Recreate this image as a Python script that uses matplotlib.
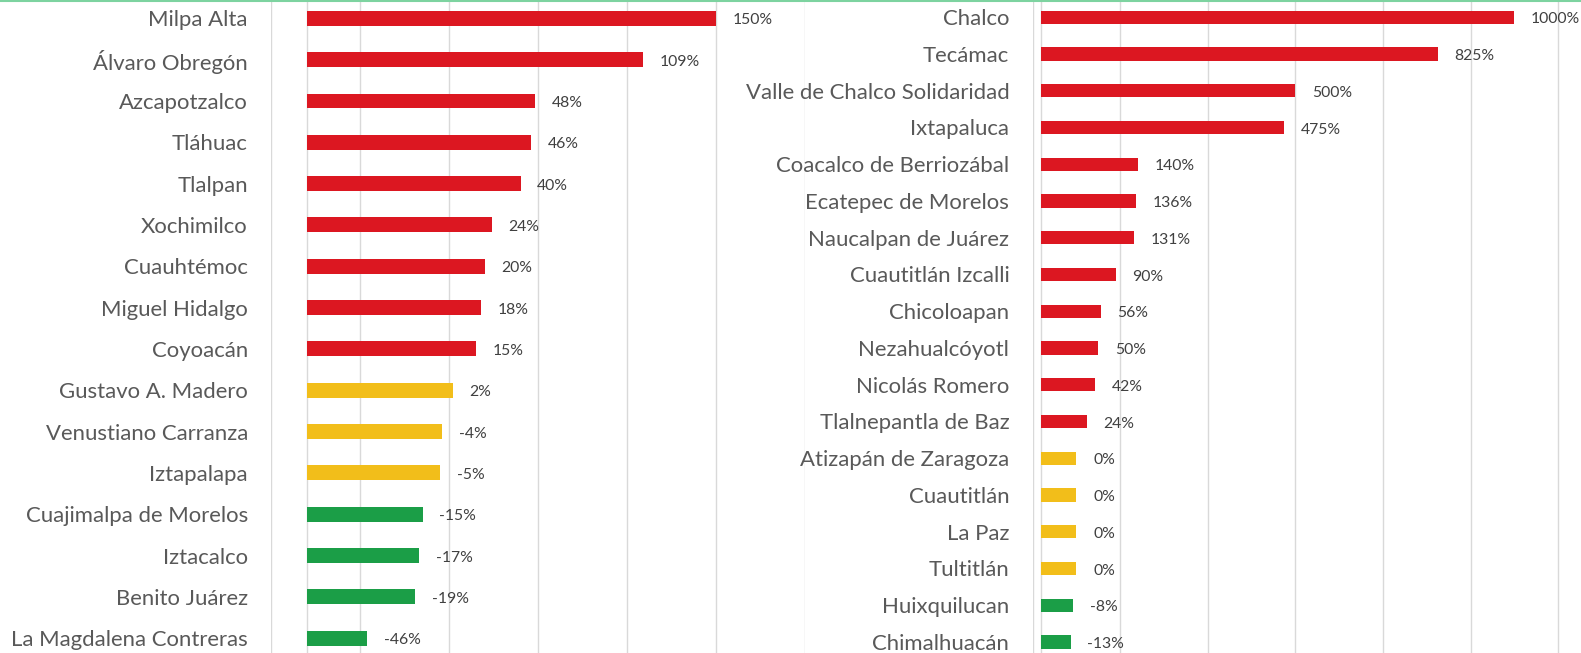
import numpy as np
import matplotlib
matplotlib.use("Agg")
import matplotlib.pyplot as plt
from matplotlib.lines import Line2D

plt.rcParams["font.family"] = ["Lato", "DejaVu Sans"]

# ── Data: CDMX alcaldías (left) and Edomex municipios (right), % change ──
cdmx_names = ["Milpa Alta", "Álvaro Obregón", "Azcapotzalco", "Tláhuac", "Tlalpan",
              "Xochimilco", "Cuauhtémoc", "Miguel Hidalgo", "Coyoacán",
              "Gustavo A. Madero", "Venustiano Carranza", "Iztapalapa",
              "Cuajimalpa de Morelos", "Iztacalco", "Benito Juárez",
              "La Magdalena Contreras"]
cdmx_vals = [150, 109, 48, 46, 40, 24, 20, 18, 15, 2, -4, -5, -15, -17, -19, -46]

edomex_names = ["Chalco", "Tecámac", "Valle de Chalco Solidaridad", "Ixtapaluca",
                "Coacalco de Berriozábal", "Ecatepec de Morelos", "Naucalpan de Juárez",
                "Cuautitlán Izcalli", "Chicoloapan", "Nezahualcóyotl", "Nicolás Romero",
                "Tlalnepantla de Baz", "Atizapán de Zaragoza", "Cuautitlán", "La Paz",
                "Tultitlán", "Huixquilucan", "Chimalhuacán"]
edomex_vals = [1000, 825, 500, 475, 140, 136, 131, 90, 56, 50, 42, 24, 0, 0, 0, 0, -8, -13]

RED = "#DC1721"
YELLOW = "#F2BE1A"
GREEN = "#1B9E47"
GRID = "#D9D9D9"
TEXT = "#595959"
BASE = -80  # category axis crosses here


def color_for(v):
    if v >= 10:
        return RED
    if v >= -5:
        return YELLOW
    return GREEN


W, H = 1581, 653
fig = plt.figure(figsize=(W / 100, H / 100), dpi=100)


def panel(rect, names, vals, xmin, xmax, grid_ticks):
    ax = fig.add_axes(rect)
    y = np.arange(len(names))
    vals = np.array(vals, dtype=float)
    ax.barh(y, vals - BASE, left=BASE, height=0.36,
            color=[color_for(v) for v in vals], zorder=3)
    ax.set_xlim(xmin, xmax)
    ax.set_ylim(len(names) - 0.5, -0.5)
    ax.set_xticks(grid_ticks)
    ax.xaxis.grid(True, color=GRID, linewidth=1.0, zorder=0)
    ax.axvline(BASE, color=GRID, linewidth=1.0, zorder=1)
    ax.tick_params(axis="x", length=0, labelbottom=False)
    ax.set_yticks(y, names)
    ax.tick_params(axis="y", length=0, pad=16.8, labelsize=15.9, labelcolor=TEXT)
    for s in ax.spines.values():
        s.set_visible(False)
    ax.patch.set_alpha(0)
    for yi, v in zip(y, vals):
        ax.annotate(f"{v:.0f}%", (v, yi), xytext=(12, -1.5), textcoords="offset points",
                    va="center", ha="left", fontsize=11.3, color="#404040", zorder=4,
                    annotation_clip=False)
    return ax


px = lambda v: v / W
# left panel: -100 .. 200 %, spans x 271..805 px
panel([px(271.3), 1 - 658.85 / H, px(534.0), 661.2 / H],
      cdmx_names, cdmx_vals, -100, 200, np.arange(-100, 201, 50))
# right panel: -100 .. ~1150 %, spans x 1032..1581 px
panel([px(1032.6), 1 - 660.3 / H, px(W - 1032.6), 661.5 / H],
      edomex_names, edomex_vals, -100, 1152, np.arange(-100, 1101, 200))

fig.add_artist(Line2D([0, 1], [0.999, 0.999], transform=fig.transFigure,
                      color="#7DD3A0", linewidth=1.5))

fig.savefig("out.png", dpi=100)
